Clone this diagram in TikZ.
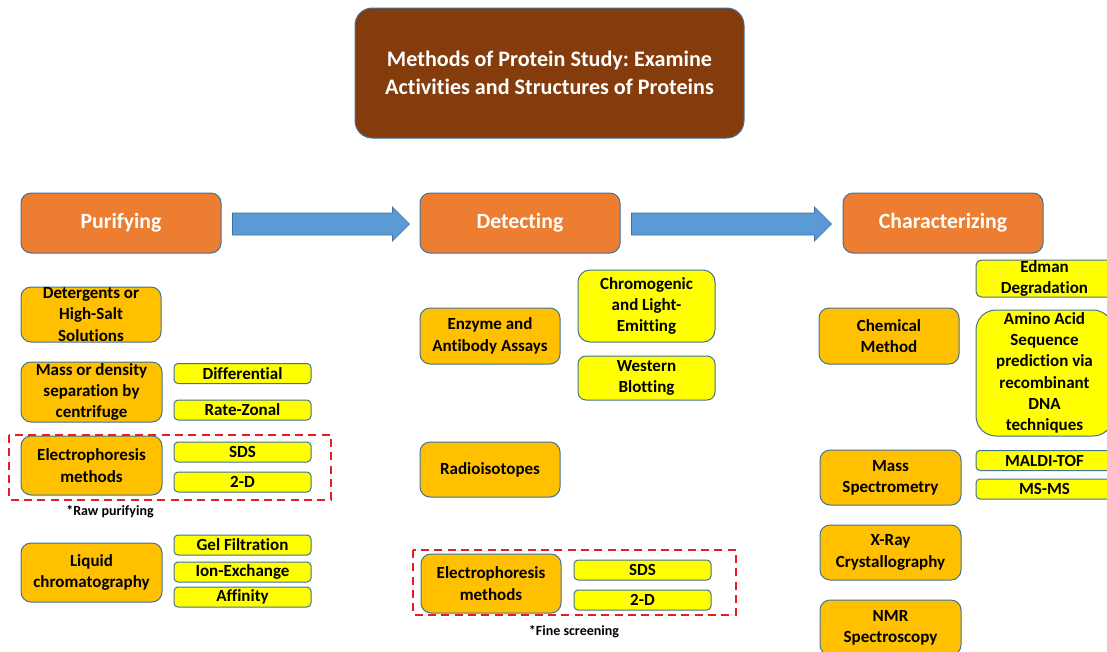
\documentclass[tikz,border=0pt]{standalone}
\usepackage{fontspec}
\setmainfont{Carlito}[Ligatures={NoCommon}]
\usepackage{tikz}
\usetikzlibrary{positioning,calc}
\definecolor{titlebrown}{RGB}{132,60,12}
\definecolor{headorange}{RGB}{237,125,49}
\definecolor{boxorange}{RGB}{255,192,0}
\definecolor{boxyellow}{RGB}{255,255,0}
\definecolor{edgeblue}{RGB}{65,113,156}
\definecolor{arrowblue}{RGB}{91,155,213}
\definecolor{dashred}{RGB}{232,28,36}
\frenchspacing

\tikzset{
  boxfont/.style={font=\bfseries\fontsize{12.75}{16}\selectfont},
  titlebox/.style={draw=edgeblue, line width=0.75pt, fill=titlebrown, text=white, rounded corners=13pt,
    minimum width=291.75pt, minimum height=97.5pt, align=center,
    font=\bfseries\fontsize{16.6}{21}\selectfont},
  stagebox/.style={draw=edgeblue, line width=0.75pt, fill=headorange, text=white, rounded corners=7.5pt,
    minimum width=150pt, minimum height=45pt, font=\bfseries\fontsize{16.3}{20}\selectfont},
  method/.style={boxfont, draw=edgeblue, line width=0.75pt, fill=boxorange, rounded corners=7.5pt,
    minimum width=105.75pt, minimum height=42pt, inner sep=0pt, align=center},
  variant/.style={boxfont, draw=edgeblue, line width=0.75pt, fill=boxyellow, rounded corners=3pt,
    minimum width=102.75pt, minimum height=15pt, inner sep=0pt, align=center},
  blockarrow/.style={fill=arrowblue, draw=edgeblue, line width=0.5pt},
  screenbox/.style={draw=dashred, line width=1.5pt, dash pattern=on 6pt off 4pt},
  note/.style={font=\bfseries\fontsize{10.5}{12}\selectfont}
}

\begin{document}
\begin{tikzpicture}[x=0.75pt, y=-0.75pt]
  \clip (0,0) rectangle (1107,651);

  % title and the three stages
  \node[titlebox] (title) at (549.5,73) {Methods of Protein Study: Examine\\Activities and Structures of Proteins};
  \node[stagebox] (pur) at (121,223) {Purifying};
  \node[stagebox] (det) at (520,223) {Detecting};
  \node[stagebox] (chr) at (943,223) {Characterizing};
  \draw[blockarrow] ($(pur.east)+(11,-10)$) -- ($(det.west)+(-27,-10)$) -- ++(0,-6) -- ($(det.west)+(-10,1)$)
    -- ($(det.west)+(-27,18)$) -- ++(0,-6) -- ($(pur.east)+(11,12)$) -- cycle;
  \draw[blockarrow] ($(det.east)+(11,-10)$) -- ($(chr.west)+(-28,-10)$) -- ++(0,-6) -- ($(chr.west)+(-11,1)$)
    -- ($(chr.west)+(-28,18)$) -- ++(0,-6) -- ($(det.east)+(11,12)$) -- cycle;

  % purifying
  \node[method, minimum width=105pt, minimum height=41.25pt] (deterg) at (91,314.5) {Detergents or\\High-Salt\\Solutions};
  \node[method, minimum height=45pt] (centri) at (91.5,392) {Mass or density\\separation by\\centrifuge};
  \node[variant] (diff) at (242.5,373.5) {Differential};
  \node[variant] (ratez) at (242.5,410) {Rate-Zonal};
  \node[method, minimum height=44.25pt] (elecraw) at (91.5,465.5) {Electrophoresis\\methods};
  \node[variant] (sdsraw) at (242.5,452) {SDS};
  \node[variant] (twodraw) at (242.5,482) {2-D};
  \draw[screenbox] (9,435) rectangle (331,500);
  \node[note] (rawnote) at (110,512) {*Raw purifying};
  \node[method, minimum height=44.25pt] (liquid) at (91.5,572.5) {Liquid\\chromatography};
  \node[variant] (gel) at (242.5,545) {Gel Filtration};
  \node[variant] (ionex) at (242.5,572) {Ion-Exchange};
  \node[variant] (affin) at (242.5,597) {Affinity};

  % detecting
  \node[method, minimum width=105pt] (assay) at (490,336) {Enzyme and\\Antibody Assays};
  \node[variant, rounded corners=9pt, minimum height=54pt] (chromo) at (646.5,306) {Chromogenic\\and Light-\\Emitting};
  \node[variant, rounded corners=6pt, minimum height=33pt] (western) at (646.5,378) {Western\\Blotting};
  \node[method, minimum width=105pt, minimum height=41.25pt] (radio) at (490,469.5) {Radioisotopes};
  \node[method, minimum width=105pt, minimum height=44.25pt] (elecfine) at (491,583.5) {Electrophoresis\\methods};
  \node[variant] (sdsfine) at (642.5,570) {SDS};
  \node[variant] (twodfine) at (642.5,600) {2-D};
  \draw[screenbox] (413,550) rectangle (736,615);
  \node[note] (finenote) at (574,632) {*Fine screening};

  % characterizing
  \node[method, minimum width=105pt] (chem) at (889,336) {Chemical\\Method};
  \node[variant, rounded corners=4pt, minimum height=27.75pt] (edman) at (1044.5,278.5) {Edman\\Degradation};
  \node[variant, rounded corners=15pt, minimum height=94.5pt] (amino) at (1044.5,373) {Amino Acid\\Sequence\\prediction via\\recombinant\\DNA\\techniques};
  \node[method, minimum height=41.25pt] (massspec) at (890.5,477.5) {Mass\\Spectrometry};
  \node[variant] (maldi) at (1044.5,460.5) {MALDI-TOF};
  \node[variant] (msms) at (1044.5,489) {MS-MS};
  \node[method, minimum height=41.25pt] (xray) at (890.5,552.5) {X-Ray\\Crystallography};
  \node[method, minimum height=41.25pt] (nmr) at (890.5,627.5) {NMR\\Spectroscopy};
\end{tikzpicture}
\end{document}
